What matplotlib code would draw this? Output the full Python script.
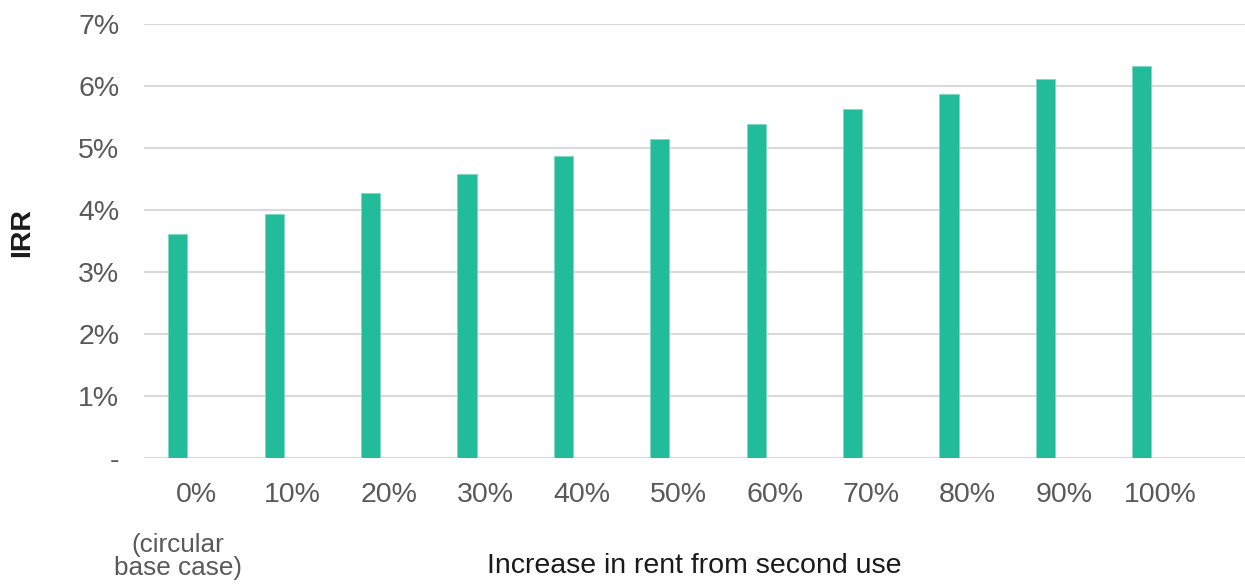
import matplotlib
matplotlib.use("Agg")
from matplotlib import pyplot as plt
from matplotlib.ticker import FuncFormatter, MultipleLocator
import matplotlib.transforms as mtransforms

categories = ['0%', '10%', '20%', '30%', '40%', '50%', '60%', '70%', '80%', '90%', '100%']
irr = [3.62, 3.94, 4.28, 4.58, 4.88, 5.15, 5.39, 5.63, 5.87, 6.11, 6.32]

plt.rcParams['font.family'] = ['Liberation Sans', 'DejaVu Sans']

fig = plt.figure(figsize=(12.45, 5.87), dpi=100)
ax = fig.add_axes([0.1159, 0.2193, 0.8841, 0.7393])

x = list(range(len(categories)))
ax.bar([i - 0.19 for i in x], irr, width=0.2, color='#23bc9b',
       edgecolor='#7fd8c4', linewidth=0.6, zorder=3)

ax.set_xlim(-0.537, 10.88)
ax.set_ylim(0, 7)
ax.yaxis.set_major_locator(MultipleLocator(1))
ax.yaxis.set_major_formatter(FuncFormatter(lambda v, p: '-' if v == 0 else f'{v:.0f}%'))
ax.grid(axis='y', color='#d9d9d9', linewidth=1.5, zorder=0)
ax.set_xticks(x)
ax.set_xticklabels(categories)
ax.tick_params(axis='both', length=0, labelsize=20.5, labelcolor='#595959')
ax.tick_params(axis='x', pad=17)
ax.tick_params(axis='y', pad=18)
for s in ax.spines.values():
    s.set_visible(False)

fig.text(0.018, 0.603, 'IRR', rotation=90, ha='center', va='center',
         fontsize=20.5, color='#1a1a1a', fontweight='bold')
fig.text(0.558, 0.036, 'Increase in rent from second use', ha='center', va='center',
         fontsize=20.5, color='#1a1a1a')

trans = mtransforms.blended_transform_factory(ax.transData, fig.transFigure)
ax.text(x[0] - 0.19, 0.052, '(circular\nbase case)', transform=trans, ha='center',
        va='center', fontsize=18.8, color='#595959', linespacing=0.95)

fig.savefig('out.png', dpi=100)
